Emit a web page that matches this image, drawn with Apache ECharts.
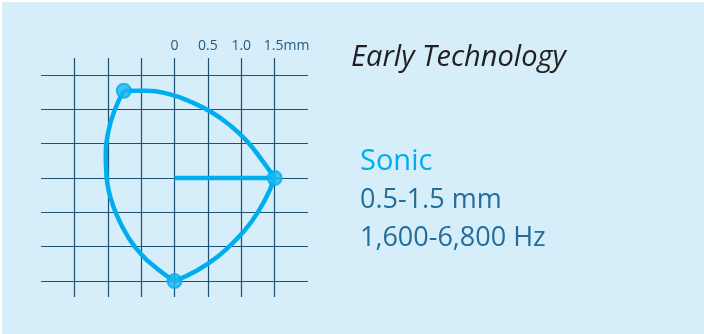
<!DOCTYPE html>
<html>
<head>
<meta charset="utf-8">
<script src="https://cdn.jsdelivr.net/npm/echarts@6/dist/echarts.min.js"></script>
<style>
html, body { margin: 0; padding: 0; background: #ffffff; }
#chart { position: absolute; left: 2px; top: 2px; width: 702px; height: 332px; background: #d6edfa; }
</style>
</head>
<body>
<div id="chart"></div>
<script>
// tick labels shown on top axis (mm)
var xTicks = [0, 0.5, 1.0, 1.5];
var xTickLabels = ['0', '0.5', '1.0', '1.5mm'];

// outline of the vibration pattern (mm)
var topArc = [[-0.76, 1.27], [-0.42, 1.27], [-0.08, 1.22], [0.24, 1.11], [0.55, 0.96], [0.84, 0.76], [1.09, 0.53], [1.31, 0.26], [1.5, 0]];
var leftArc = [[-0.76, 1.27], [-0.9, 0.98], [-0.99, 0.68], [-1.03, 0.36], [-1.02, 0.04], [-0.96, -0.28], [-0.85, -0.57], [-0.7, -0.85], [-0.5, -1.11], [-0.26, -1.32], [0, -1.5]];
var rightArc = [[0, -1.5], [0.33, -1.35], [0.64, -1.15], [0.91, -0.91], [1.15, -0.64], [1.35, -0.33], [1.5, 0]];
var radiusLine = [[0, 0], [1.5, 0]];
var vertices = [[-0.76, 1.27], [1.5, 0], [0, -1.5]];

var blue = '#00aeef';
var gridColor = '#1d5178';

var chart = echarts.init(document.getElementById('chart'));

function arc(data) {
    return {
        type: 'line',
        xAxisIndex: 1,
        yAxisIndex: 1,
        data: data,
        smooth: 0.5,
        symbol: 'none',
        lineStyle: { color: blue, width: 4.5 },
        z: 5
    };
}

var option = {
    animation: false,
    grid: [
        // vertical lines
        { left: 39, width: 267, top: 56, height: 239 },
        // horizontal lines + data
        { left: 39, width: 267, top: 38.6, height: 274.8 }
    ],
    xAxis: [
        {
            gridIndex: 0,
            type: 'value',
            position: 'top',
            min: -2,
            max: 2,
            interval: 0.5,
            axisLine: { show: false },
            axisTick: { show: false },
            splitLine: { show: true, showMinLine: false, showMaxLine: false, lineStyle: { color: gridColor, width: 1.2 } },
            axisLabel: {
                margin: 5,
                color: '#1f5b82',
                fontFamily: 'Open Sans',
                fontSize: 14,
                formatter: function (v) {
                    var i = xTicks.indexOf(v);
                    if (i < 0) return '';
                    if (i === xTicks.length - 1) return '{u|' + xTickLabels[i] + '}';
                    return xTickLabels[i];
                },
                rich: { u: { color: '#1f5b82', fontFamily: 'Open Sans', fontSize: 14, padding: [0, 0, 0, 24] } }
            }
        },
        {
            gridIndex: 1,
            type: 'value',
            min: -2,
            max: 2,
            interval: 0.5,
            show: false
        }
    ],
    yAxis: [
        {
            gridIndex: 0,
            type: 'value',
            min: -2,
            max: 2,
            show: false
        },
        {
            gridIndex: 1,
            type: 'value',
            min: -2,
            max: 2,
            interval: 0.5,
            axisLine: { show: false },
            axisTick: { show: false },
            axisLabel: { show: false },
            splitLine: { show: true, showMinLine: false, showMaxLine: false, lineStyle: { color: gridColor, width: 1.2 } }
        }
    ],
    graphic: [
        { type: 'text', left: 349, top: 41, style: { text: 'Early Technology', font: 'italic 29px "Open Sans"', fill: '#231f20' } },
        { type: 'text', left: 358, top: 145, style: { text: 'Sonic', font: '29px "Open Sans"', fill: blue } },
        { type: 'text', left: 358, top: 184.5, style: { text: '0.5-1.5 mm', font: '27px "Open Sans"', fill: '#236d9b' } },
        { type: 'text', left: 358, top: 222.5, style: { text: '1,600-6,800 Hz', font: '27px "Open Sans"', fill: '#236d9b' } }
    ],
    series: [
        arc(topArc),
        arc(leftArc),
        arc(rightArc),
        {
            type: 'line',
            xAxisIndex: 1,
            yAxisIndex: 1,
            data: radiusLine,
            symbol: 'none',
            lineStyle: { color: blue, width: 4.5 },
            z: 5
        },
        {
            type: 'scatter',
            xAxisIndex: 1,
            yAxisIndex: 1,
            data: vertices,
            symbolSize: 14,
            itemStyle: { color: '#19b6f0', borderColor: blue, borderWidth: 2 },
            z: 6
        }
    ]
};

chart.setOption(option);
</script>
</body>
</html>
